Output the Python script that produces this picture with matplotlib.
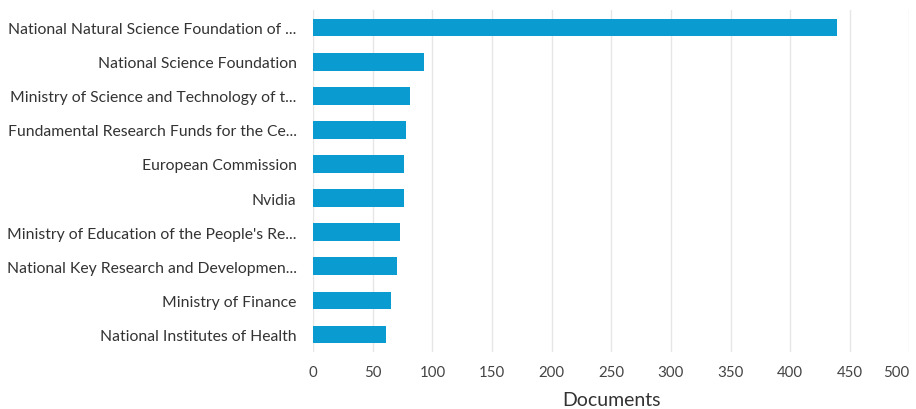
import matplotlib
matplotlib.use("Agg")
import matplotlib.pyplot as plt

categories = [
    "National Natural Science Foundation of ...",
    "National Science Foundation",
    "Ministry of Science and Technology of t...",
    "Fundamental Research Funds for the Ce...",
    "European Commission",
    "Nvidia",
    "Ministry of Education of the People's Re...",
    "National Key Research and Developmen...",
    "Ministry of Finance",
    "National Institutes of Health",
]
documents = [439, 93, 81, 78, 76, 76, 73, 70, 65, 61]
xticks = [0, 50, 100, 150, 200, 250, 300, 350, 400, 450, 500]

plt.rcParams['font.family'] = ['Lato', 'DejaVu Sans']

fig = plt.figure(figsize=(9.16, 4.10), dpi=100)
ax = fig.add_axes([0.342, 0.140, 0.6507, 0.832])

ypos = list(range(len(categories)))
ax.barh(ypos, documents, height=0.52, color="#0a9bd0", zorder=3)
ax.set_ylim(len(categories) - 0.5, -0.5)
ax.set_xlim(0, 500)
ax.set_yticks(ypos)
ax.set_yticklabels(categories, fontsize=11.3, color="#333333")
ax.set_xticks(xticks)
ax.set_xticklabels([str(t) for t in xticks], fontsize=10.8, color="#444444")
ax.get_xticklabels()[-1].set_horizontalalignment('right')
ax.tick_params(axis='both', length=0)
ax.tick_params(axis='y', pad=12)
ax.tick_params(axis='x', pad=10)
for s in ax.spines.values():
    s.set_visible(False)
ax.grid(axis='x', color="#e6e6e6", linewidth=1, zorder=0)
ax.set_xlabel("Documents", fontsize=14, color="#333333", labelpad=8)

fig.savefig("out.png", dpi=100)
